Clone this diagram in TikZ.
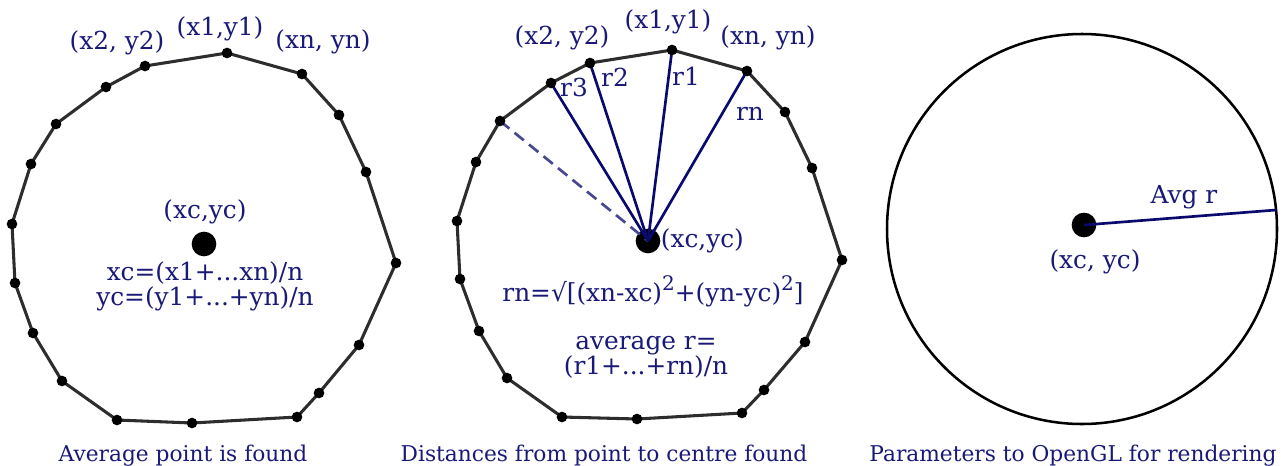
\documentclass[tikz,border=0pt]{standalone}
\usepackage{fontspec}
\setmainfont{DejaVu Serif}
\definecolor{labelblue}{RGB}{25,25,120}
\definecolor{radblue}{RGB}{10,10,110}
\definecolor{edgegray}{RGB}{45,45,45}
\newcommand{\sqtwo}{\raisebox{8.5pt}{\fontsize{15}{15}\selectfont 2}}
\tikzset{
  outline/.style={edgegray,line width=2.3pt,line join=round},
  vertex/.style={circle,fill=black,inner sep=0pt,minimum size=8pt},
  centre/.style={circle,fill=black,inner sep=0pt,minimum size=18.5pt},
  lbl/.style={labelblue,inner sep=1pt,font=\fontsize{18.6}{18.8}\selectfont},
  caption/.style={labelblue,inner sep=0pt,anchor=base,font=\fontsize{16.3}{18}\selectfont},
  radius/.style={radblue,line width=2pt},
}
\begin{document}
\begin{tikzpicture}[x=0.75pt,y=-0.75pt]
  \useasboundingbox (0,0) rectangle (1281,465);

  % average point
  \foreach \x/\y [count=\i] in {227/53,145/66,106/87,56/124,31/164,12/224,
      15/283,33/333,62/381,117/420,192/423,297/417,319/393,359/345,
      396/263,366/172,339/115,302/74}
    \coordinate (a\i) at (\x,\y);
  \draw[outline] (a1) \foreach \i in {2,...,18} {-- (a\i)} -- cycle;
  \foreach \i in {1,...,18} \node[vertex] at (a\i) {};
  \node[centre] (c1) at (204,244) {};
  \node[lbl] at (220,29) {(x1,y1)};
  \node[lbl] at (117,43) {(x2, y2)};
  \node[lbl] at (323,42) {(xn, yn)};
  \node[lbl] at (205,212) {(xc,yc)};
  \node[lbl,align=center] at (205,286) {xc=(x1+...xn)/n\\yc=(y1+...+yn)/n};
  \node[caption] at (183,461) {Average point is found};

  % distances
  \foreach \x/\y [count=\i] in {672/50,590/63,551/83,500/121,476/162,457/221,
      460/279,479/331,507/378,562/417,637/419,742/413,764/390,805/342,
      842/260,812/168,785/112,747/71}
    \coordinate (b\i) at (\x,\y);
  \draw[outline] (b1) \foreach \i in {2,...,18} {-- (b\i)} -- cycle;
  \node[centre] (c2) at (648,241) {};
  \draw[radius,dashed,dash pattern=on 9pt off 5pt,radblue!75] (b4) -- (c2.center);
  \foreach \i in {1,2,3,18} \draw[radius] (b\i) -- (c2.center);
  \foreach \i in {1,...,18} \node[vertex] at (b\i) {};
  \node[lbl] at (668,22) {(x1,y1)};
  \node[lbl] at (562,38) {(x2, y2)};
  \node[lbl] at (768,38) {(xn, yn)};
  \node[lbl] at (574,87) {r3};
  \node[lbl] at (615,77) {r2};
  \node[lbl] at (686,76) {r1};
  \node[lbl] at (750,114) {rn};
  \node[lbl,anchor=west,inner sep=0pt] at (c2.east) {(xc,yc)};
  \node[lbl] at (653,291) {rn=√[(xn-xc)\sqtwo+(yn-yc)\sqtwo]};
  \node[lbl,align=center] at (646,357) {average r=\\(r1+...+rn)/n};
  \node[caption] at (604,461) {Distances from point to centre found};

  % opengl
  \draw[black,line width=1.9pt] (1082,229) circle (146.25pt);
  \node[centre] (c3) at (1084,225) {};
  \coordinate (rim) at (1276,210);
  \draw[radius] (c3.center) -- (rim) node[lbl,pos=0.52,above=4pt] {Avg r};
  \node[lbl] at (1095,262) {(xc, yc)};
  \node[caption] at (1073,461) {Parameters to OpenGL for rendering};
\end{tikzpicture}
\end{document}
